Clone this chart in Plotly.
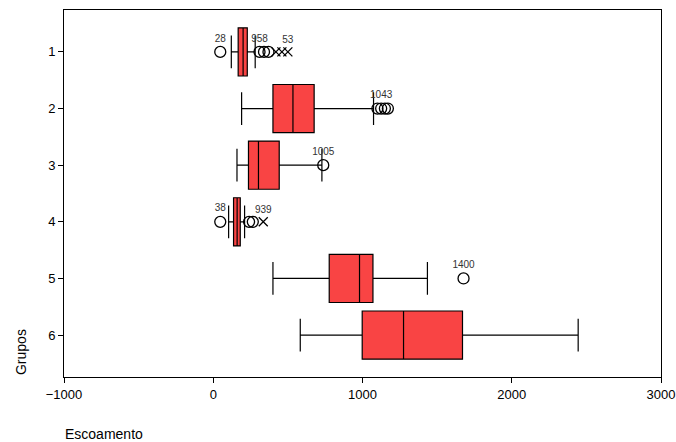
import plotly.graph_objects as go

groups = [1, 2, 3, 4, 5, 6]
q1 = [167, 400, 236, 136, 777, 998]
median = [200, 534, 303, 160, 980, 1275]
q3 = [228, 676, 442, 181, 1070, 1670]
lower = [121, 190, 159, 103, 400, 583]
upper = [281, 1074, 728, 210, 1435, 2445]

# mild outliers (circles) and extreme outliers (crosses) per group
circ_group = [1, 1, 1, 1, 2, 2, 2, 2, 3, 4, 4, 4, 5]
circ_value = [47, 310, 340, 370, 1100, 1125, 1150, 1170, 737, 47, 240, 265, 1677]
circ_label = ["28", "958", "", "", "", "1043", "", "", "1005", "38", "", "", "1400"]
ext_group = [1, 1, 1, 4]
ext_value = [420, 460, 500, 335]
ext_label = ["", "", "53", "939"]

fig = go.Figure()
for i, g in enumerate(groups):
    fig.add_trace(go.Box(
        y=[g], q1=[q1[i]], median=[median[i]], q3=[q3[i]],
        lowerfence=[lower[i]], upperfence=[upper[i]],
        orientation="h", width=0.85, whiskerwidth=0.68,
        fillcolor="#f94444", line=dict(color="black", width=1.2),
        boxpoints=False, showlegend=False, hoverinfo="skip",
    ))

fig.add_trace(go.Scatter(
    x=circ_value, y=circ_group, mode="markers+text", text=circ_label,
    textposition="top center", textfont=dict(size=10, color="#333333", family="Liberation Sans"),
    marker=dict(symbol="circle-open", size=11, color="black", line=dict(width=1.3)),
    showlegend=False, hoverinfo="skip",
))
fig.add_trace(go.Scatter(
    x=ext_value, y=ext_group, mode="markers+text", text=ext_label,
    textposition="top center", textfont=dict(size=10, color="#333333", family="Liberation Sans"),
    marker=dict(symbol="x-thin-open", size=9, color="black", line=dict(width=1.3, color="black")),
    showlegend=False, hoverinfo="skip",
))

fig.update_layout(
    width=676, height=442,
    margin=dict(l=64, r=15, t=10, b=65),
    plot_bgcolor="white", paper_bgcolor="white",
    font=dict(family="Liberation Sans", size=13, color="black"),
    xaxis=dict(range=[-1000, 3000], tickvals=[-1000, 0, 1000, 2000, 3000],
               showgrid=False, zeroline=False, showline=True, mirror=True,
               linecolor="black", linewidth=1, ticks="outside", ticklen=5,
               tickcolor="black", automargin=False, ticklabeloverflow="allow"),
    yaxis=dict(range=[6.74, 0.26], tickvals=groups, ticktext=[str(g) for g in groups],
               showgrid=False, zeroline=False, showline=True, mirror=True,
               linecolor="black", linewidth=1, ticks="outside", ticklen=5,
               tickcolor="black", automargin=False),
    annotations=[
        dict(text="Grupos", textangle=-90, xref="paper", yref="paper",
             x=-0.072, y=0.0, xanchor="center", yanchor="bottom",
             showarrow=False, font=dict(size=14)),
        dict(text="Escoamento", xref="paper", yref="paper",
             x=-0.002, y=-0.155, xanchor="left", yanchor="middle",
             showarrow=False, font=dict(size=14)),
    ],
)

fig.write_html("out.html",
               config={"displayModeBar": False, "responsive": False},
               post_script="document.body.style.margin='0';document.body.style.overflow='hidden';document.documentElement.style.overflow='hidden';")
